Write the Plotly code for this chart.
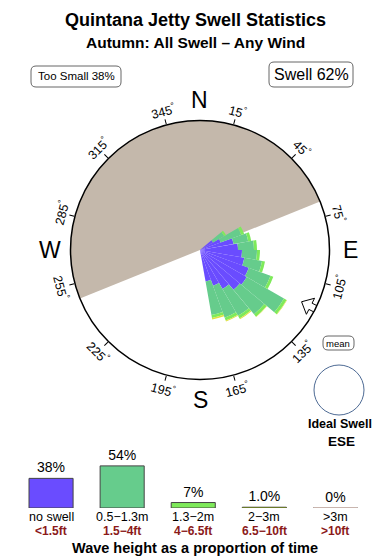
import math
import plotly.graph_objects as go

# ---------------- data ----------------
title = "Quintana Jetty Swell Statistics"
subtitle = "Autumn: All Swell \u2013 Any Wind"

# rose direction bins (compass degrees, bin centres) and stacked layer sizes
directions = [55, 65, 75, 85, 95, 105, 115, 125, 135, 145, 155, 165]
no_swell   = [15, 22, 34, 38, 42, 45, 52, 54, 52, 45, 38, 32]
swell_05_13 = [13, 22, 15, 16, 15, 18, 23, 43, 32, 31, 34, 34]
swell_13_2  = [2, 3, 3, 3, 3, 3, 3, 3, 3, 3, 3, 3]
swell_2_3   = [0, 0, 0, 0, 0, 0, 0, 0.5, 0.5, 1, 1, 1.5]
rose_max = 129.5

land_center, land_width = 338, 180   # shoreline: land from 248° to 68°
mean_dir = 117                        # swell direction arrow

angle_ticks = [15, 45, 75, 105, 135, 165, 195, 225, 255, 285, 315, 345]
compass = {"N": 0, "E": 90, "S": 180, "W": 270}

# bottom legend
cat_top = ["no swell", "0.5\u22121.3m", "1.3\u22122m", "2\u22123m", ">3m"]
cat_bot = ["<1.5ft", "1.5\u22124ft", "4\u22126.5ft", "6.5\u221210ft", ">10ft"]
cat_pct = [38, 54, 7, 1.0, 0]
cat_lbl = ["38%", "54%", "7%", "1.0%", "0%"]

BLUE, GREEN, LGREEN, YELLOW, PINK = "#6a4cff", "#66cc8c", "#7eea5a", "#dfe040", "#c9b5ae"
LAND = "#c4b8ab"
cat_colors = [BLUE, GREEN, LGREEN, YELLOW, PINK]
FONT = "Liberation Sans, Arial, sans-serif"

W, H = 390, 560
fig = go.Figure()

# ---------------- rose ----------------
fig.add_trace(go.Barpolar(theta=[land_center], r=[rose_max], width=[land_width], base=[0],
                          marker=dict(color=LAND, line=dict(width=0)), showlegend=False))
base = [0] * len(directions)
for vals, col in [(no_swell, BLUE), (swell_05_13, GREEN), (swell_13_2, LGREEN), (swell_2_3, YELLOW)]:
    fig.add_trace(go.Barpolar(theta=directions, r=vals, base=list(base), width=[10] * len(directions),
                              marker=dict(color=col, line=dict(width=0)), showlegend=False))
    base = [b + v for b, v in zip(base, vals)]

# swell arrow (outline) built in local frame, converted to polar
def loc(d, w):
    return math.hypot(d, w), mean_dir + math.degrees(math.atan2(w, d))
arrow_local = [(114, 0), (124, -9), (124, -3.5), (133, -3.5), (133, 3.5), (124, 3.5), (124, 9), (114, 0)]
ar = [loc(d, w) for d, w in arrow_local]
fig.add_trace(go.Scatterpolar(r=[p[0] for p in ar], theta=[p[1] for p in ar], mode="lines",
                              fill="toself", fillcolor="white", line=dict(color="black", width=1),
                              showlegend=False, hoverinfo="skip"))

cx, cy, R = 200, 250, 129.5
dom_x = [(cx - R) / W, (cx + R) / W]
dom_y = [(H - cy - R) / H, (H - cy + R) / H]

fig.update_layout(polar=dict(
    domain=dict(x=dom_x, y=dom_y), bgcolor="white", barmode="overlay",
    angularaxis=dict(rotation=90, direction="clockwise", showline=True, linecolor="black",
                     linewidth=1.5, tickvals=angle_ticks, ticks="outside", ticklen=5,
                     tickcolor="black", showticklabels=False, showgrid=False),
    radialaxis=dict(visible=False, range=[0, rose_max], showgrid=False)))

annotations = []

def ann(x, y, text, size, xref="paper", color="black"):
    annotations.append(dict(x=x, y=y, xref=xref, yref="paper", text=text, showarrow=False,
                            xanchor="center", yanchor="middle",
                            font=dict(size=size, family=FONT, color=color)))
    return annotations[-1]

def polar_xy(b, rad):
    x = cx + rad * math.sin(math.radians(b))
    y = cy - rad * math.cos(math.radians(b))
    return x / W, 1 - y / H

for b in angle_ticks:
    x, y = polar_xy(b, 144)
    a = ann(x, y, f"{b}<sup>°</sup>", 12.5)
    a["textangle"] = ((b + 90) % 180) - 90
for k, b in compass.items():
    x, y = polar_xy(b, 150)
    ann(x, y, k, 23)

# ---------------- titles / boxes ----------------
ann(0.5, 1 - 20 / H, f"<b>{title}</b>", 18)
ann(0.5, 1 - 43 / H, f"<b>{subtitle}</b>", 15.5)
ann(76 / W, 1 - 76.5 / H, "Too Small 38%", 11.5)
ann(311 / W, 1 - 74.5 / H, "Swell 62%", 16)
ann(338 / W, 1 - 343 / H, "mean", 9.5)
ann(340 / W, 1 - 424 / H, "<b>Ideal Swell</b>", 12.5)
ann(341 / W, 1 - 441 / H, "<b>ESE</b>", 13.5)
ann(0.5, 1 - 548 / H, "<b>Wave height as a proportion of time</b>", 14.5)

# category labels under legend bars (two rows)
for i, (t, b) in enumerate(zip(cat_top, cat_bot)):
    ann(i, 1 - 517 / H, t, 12.5, xref="x")
    ann(i, 1 - 530.5 / H, "<b>" + b.replace("<", "&lt;").replace(">", "&gt;") + "</b>", 12,
        xref="x", color="#8b1a1a")

def rbox(x0, y0, x1, y1, rad=5):
    X = lambda v: v / W
    Y = lambda v: 1 - v / H
    rx, ry = rad / W, rad / H
    a, b, c, d = X(x0), X(x1), Y(y0), Y(y1)
    return (f"M {a+rx},{c} L {b-rx},{c} Q {b},{c} {b},{c-ry} L {b},{d+ry} Q {b},{d} {b-rx},{d} "
            f"L {a+rx},{d} Q {a},{d} {a},{d+ry} L {a},{c-ry} Q {a},{c} {a+rx},{c} Z")

shapes = [
    dict(type="path", xref="paper", yref="paper", path=rbox(31, 66, 121, 87), line=dict(color="#666", width=1)),
    dict(type="path", xref="paper", yref="paper", path=rbox(269, 62, 353, 87), line=dict(color="#666", width=1)),
    dict(type="path", xref="paper", yref="paper", path=rbox(323, 336, 354, 350), line=dict(color="#666", width=1)),
    dict(type="circle", xref="paper", yref="paper", x0=314 / W, x1=364 / W, y0=1 - 415 / H, y1=1 - 365 / H,
         line=dict(color="#4d6a94", width=1)),
]

# ---------------- bottom legend bars ----------------
fig.add_trace(go.Bar(x=list(range(5)), y=cat_pct, width=0.62, text=cat_lbl, textposition="outside",
                     cliponaxis=False, marker=dict(color=cat_colors, line=dict(color="#444", width=1)),
                     textfont=dict(size=14, family=FONT, color="black"), showlegend=False,
                     xaxis="x", yaxis="y"))
for i in (3, 4):
    shapes.append(dict(type="line", xref="x", yref="y", x0=i - 0.31, x1=i + 0.31, y0=0, y1=0,
                       line=dict(color=["#6b7a2a", PINK][i - 3], width=2)))

fig.update_layout(
    xaxis=dict(domain=[15.5 / W, 371 / W], range=[-0.5, 4.5], showticklabels=False,
               showgrid=False, zeroline=False, showline=False, ticks="", anchor="y"),
    yaxis=dict(domain=[52 / H, (52 + 0.78 * 70) / H], range=[0, 70], visible=False),
)

fig.update_layout(width=W, height=H, margin=dict(l=0, r=0, t=0, b=0), template="none",
                  paper_bgcolor="white", plot_bgcolor="white", showlegend=False,
                  annotations=annotations, shapes=shapes, font=dict(family=FONT))
fig.write_html("out.html")
